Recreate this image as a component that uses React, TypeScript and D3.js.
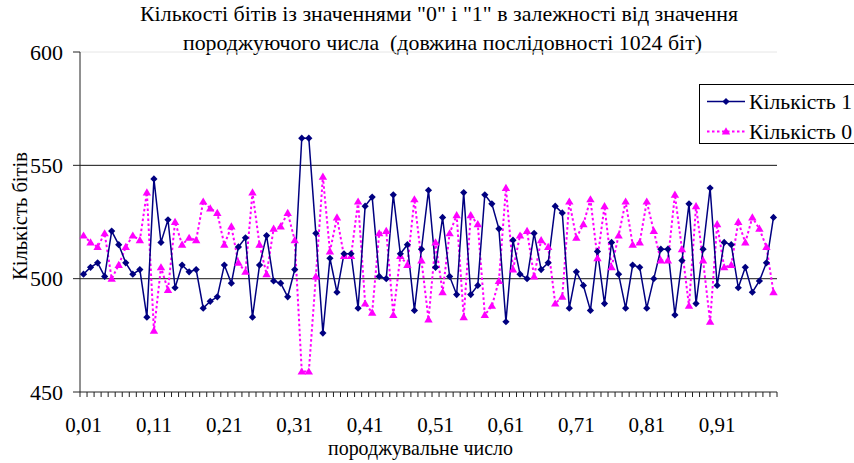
import React from 'react';
import * as d3 from 'd3';

const categories = [
  '0,01','0,02','0,03','0,04','0,05','0,06','0,07','0,08','0,09','0,1',
  '0,11','0,12','0,13','0,14','0,15','0,16','0,17','0,18','0,19','0,2',
  '0,21','0,22','0,23','0,24','0,25','0,26','0,27','0,28','0,29','0,3',
  '0,31','0,32','0,33','0,34','0,35','0,36','0,37','0,38','0,39','0,4',
  '0,41','0,42','0,43','0,44','0,45','0,46','0,47','0,48','0,49','0,5',
  '0,51','0,52','0,53','0,54','0,55','0,56','0,57','0,58','0,59','0,6',
  '0,61','0,62','0,63','0,64','0,65','0,66','0,67','0,68','0,69','0,7',
  '0,71','0,72','0,73','0,74','0,75','0,76','0,77','0,78','0,79','0,8',
  '0,81','0,82','0,83','0,84','0,85','0,86','0,87','0,88','0,89','0,9',
  '0,91','0,92','0,93','0,94','0,95','0,96','0,97','0,98','0,99'
];

const count1 = [
  502,505,507,501,521,515,507,502,504,483,
  544,516,526,496,506,503,504,487,490,492,
  506,498,514,518,483,506,519,499,498,492,
  504,562,562,520,476,509,494,511,511,487,
  532,536,501,500,537,511,515,486,513,539,
  505,527,501,493,538,493,497,537,533,522,
  481,517,502,500,520,504,507,532,529,487,
  503,497,486,512,489,516,502,487,506,505,
  487,500,513,513,484,508,533,489,513,540,
  497,516,515,496,505,494,499,507,527
];

const count0 = [
  519,516,514,520,500,506,514,519,517,538,
  477,505,495,525,515,518,517,534,531,529,
  515,523,507,503,538,515,502,522,523,529,
  517,459,459,501,545,512,527,510,510,534,
  489,485,520,521,484,510,506,535,508,482,
  516,494,520,528,483,528,524,484,488,499,
  540,504,519,521,501,517,514,489,492,534,
  518,524,535,509,532,505,519,534,515,516,
  534,521,508,508,537,513,488,532,508,481,
  524,505,506,525,516,527,522,514,494
];

const yTicks = [450, 500, 550, 600];
const gridValues = [500, 550, 600];
const xLabelEvery = 10;

const seriesNames = ['Кількість 1', 'Кількість 0'];
const titleLines = [
  'Кількості бітів із значеннями "0" і "1" в залежності від значення',
  'породжуючого числа \u00A0(довжина послідовності 1024 біт)'
];
const xTitle = 'породжувальне число';
const yTitle = 'Кількість бітів';

const W = 854, H = 463;
const BLUE = '#000080';
const PINK = '#FF00FF';
const FONT = 'Liberation Serif';

const diamond = 'M0,-3.6L3.6,0L0,3.6L-3.6,0Z';
const triangle = 'M0,-4.2L4.2,3L-4.2,3Z';

const css = `svg.chart text { font-family: 'Liberation Serif', 'Times New Roman', Tinos !important; }`;

export default function App() {
  const x = d3.scaleBand<string>().domain(categories).range([80, 777]).padding(0);
  const y = d3.scaleLinear().domain([450, 600]).range([392, 52]);
  const cx = (c: string) => (x(c) as number) + x.bandwidth() / 2;

  const line1 = d3.line<number>().x((_, i) => cx(categories[i])).y(d => y(d));
  const boundaries = d3.range(categories.length + 1).map(i => 80 + i * x.bandwidth());
  const fit = { lengthAdjust: 'spacingAndGlyphs' as const };

  return (
    <svg className="chart" width={W} height={H} fontFamily={FONT}
      style={{ position: 'absolute', left: 0, top: 0, background: '#fff', fontFamily: `'${FONT}'` }}>
      <style>{css}</style>
      {/* title */}
      <text x={439} y={21} textAnchor="middle" fontSize={21} fill="#000" textLength={598} {...fit}>{titleLines[0]}</text>
      <text x={442.5} y={50} textAnchor="middle" fontSize={21} fill="#000" textLength={519} {...fit}>{titleLines[1]}</text>

      {/* gridlines */}
      {gridValues.map(v => (
        <line key={v} x1={80} x2={777} y1={y(v)} y2={y(v)}
          stroke={v === 600 ? '#e6e6e6' : v === 500 ? '#444' : '#111'}
          strokeWidth={v === 500 ? 1.4 : 1} />
      ))}

      {/* y axis */}
      <line x1={80} x2={80} y1={52} y2={392} stroke="#222" strokeWidth={1} />
      {yTicks.map(v => (
        <g key={v}>
          <line x1={73} x2={80} y1={y(v)} y2={y(v)} stroke="#222" />
          <text x={63} y={y(v)} dy="0.35em" textAnchor="end" fontSize={22} fill="#000">{v}</text>
        </g>
      ))}

      {/* x axis */}
      <line x1={80} x2={777} y1={392} y2={392} stroke="#222" />
      {boundaries.map((b, i) => (
        <line key={i} x1={b} x2={b} y1={392} y2={397} stroke="#222" />
      ))}
      {categories.map((c, i) => i % xLabelEvery === 0 ? (
        <text key={c} x={cx(c)} y={432} textAnchor="middle" fontSize={21} fill="#000">{c}</text>
      ) : null)}

      {/* axis titles */}
      <text x={420.5} y={455} textAnchor="middle" fontSize={21} fill="#000" textLength={185} {...fit}>{xTitle}</text>
      <text transform={`translate(27,216) rotate(-90)`} textAnchor="middle" fontSize={21} fill="#000" textLength={128} {...fit}>{yTitle}</text>

      {/* series 0 (pink dotted) */}
      <path d={line1(count0) || ''} fill="none" stroke={PINK} strokeWidth={2} strokeDasharray="2.5,2.5" />
      {/* series 1 (navy) */}
      <path d={line1(count1) || ''} fill="none" stroke={BLUE} strokeWidth={1.5} />
      {count0.map((v, i) => (
        <path key={'t' + i} d={triangle} transform={`translate(${cx(categories[i])},${y(v)})`} fill={PINK} />
      ))}
      {count1.map((v, i) => (
        <path key={'d' + i} d={diamond} transform={`translate(${cx(categories[i])},${y(v)})`} fill={BLUE} />
      ))}

      {/* legend */}
      <rect x={699.5} y={84.5} width={170} height={59} fill="#fff" stroke="#000" strokeWidth={1} />
      <line x1={707} x2={745} y1={101.5} y2={101.5} stroke={BLUE} strokeWidth={1.5} />
      <path d={diamond} transform="translate(726,101.5)" fill={BLUE} />
      <text x={749} y={101.5} dy="0.35em" fontSize={21} fill="#000" textLength={103} {...fit}>{seriesNames[0]}</text>
      <line x1={707} x2={745} y1={131.5} y2={131.5} stroke={PINK} strokeWidth={2} strokeDasharray="2.5,2.5" />
      <path d={triangle} transform="translate(726,131.5)" fill={PINK} />
      <text x={749} y={131.5} dy="0.35em" fontSize={21} fill="#000" textLength={103} {...fit}>{seriesNames[1]}</text>
    </svg>
  );
}
